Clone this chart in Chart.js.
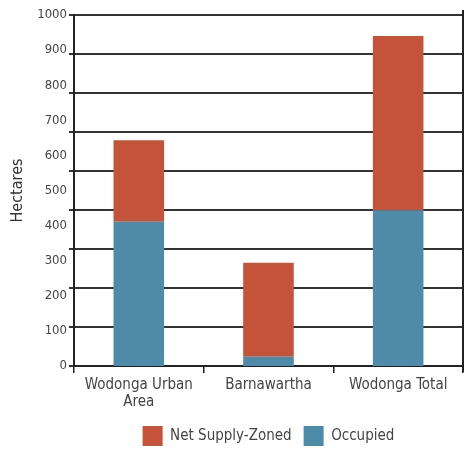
<!DOCTYPE html>
<html>
<head>
<meta charset="utf-8">
<script src="https://cdn.jsdelivr.net/npm/chart.js@4"></script>
<style>
  html, body { margin: 0; padding: 0; background: #fff; }
  #wrap { width: 465px; height: 453px; }
</style>
</head>
<body>
<div id="wrap"><canvas id="grafico"></canvas></div>
<script>
// dados
const categorias = [['Wodonga Urban', 'Area'], 'Barnawartha', 'Wodonga Total'];
const ocupado = [411, 26, 444];
const ofertaLiquida = [232, 268, 496];
const ticksY = [0, 100, 200, 300, 400, 500, 600, 700, 800, 900, 1000];

const fonte = "'Liberation Sans Narrow', 'DejaVu Sans Condensed', sans-serif";
const cinza = '#444';

// linha da borda direita
const bordaDireita = {
  id: 'bordaDireita',
  afterDraw(chart) {
    const { ctx, chartArea } = chart;
    ctx.save();
    ctx.strokeStyle = '#222';
    ctx.lineWidth = 2;
    ctx.beginPath();
    ctx.moveTo(chartArea.right, chartArea.top - 5);
    ctx.lineTo(chartArea.right, chartArea.bottom + 6);
    ctx.stroke();
    ctx.restore();
  }
};

new Chart(document.getElementById('grafico'), {
  type: 'bar',
  data: {
    labels: categorias,
    datasets: [
      { label: 'Occupied', data: ocupado, backgroundColor: '#4d8ba8', yAxisID: 'y' },
      { label: 'Net Supply-Zoned', data: ofertaLiquida, backgroundColor: '#c4533a', yAxisID: 'y' }
    ]
  },
  plugins: [bordaDireita],
  options: {
    responsive: true,
    maintainAspectRatio: false,
    animation: false,
    categoryPercentage: 1,
    barPercentage: 0.39,
    layout: { padding: { top: 15, right: 2, left: 8, bottom: -3 } },
    plugins: {
      tooltip: { enabled: false },
      legend: {
        position: 'bottom',
        fullSize: false,
        reverse: true,
        labels: {
          boxWidth: 20, boxHeight: 20, padding: 12, color: cinza,
          font: { family: fonte, size: 15 }
        }
      }
    },
    scales: {
      x: {
        stacked: true,
        grid: { display: true, drawOnChartArea: false, offset: true, tickLength: 7, color: '#222', lineWidth: 1.5 },
        border: { display: true, color: '#222', width: 2 },
        ticks: { color: cinza, font: { family: fonte, size: 15, lineHeight: 1.1 }, maxRotation: 0, padding: 4 }
      },
      y: {
        stacked: true,
        min: 0,
        max: 1000,
        weight: 1,
        afterBuildTicks: axis => { axis.ticks = ticksY.map(v => ({ value: v })); },
        grid: { display: false, drawTicks: false },
        border: { display: false },
        ticks: { color: cinza, font: { family: fonte, size: 13 }, padding: 2, callback: v => String(v) },
        title: { display: true, text: 'Hectares', color: '#333', font: { family: fonte, size: 16 }, padding: { top: 0, bottom: 8 } }
      },
      grade: {
        position: 'left',
        min: 0,
        max: 9,
        weight: 0,
        ticks: { display: false, stepSize: 1 },
        grid: { color: '#333', lineWidth: 2, tickLength: 5 },
        border: { display: true, color: '#222', width: 2 }
      }
    }
  }
});
</script>
</body>
</html>
